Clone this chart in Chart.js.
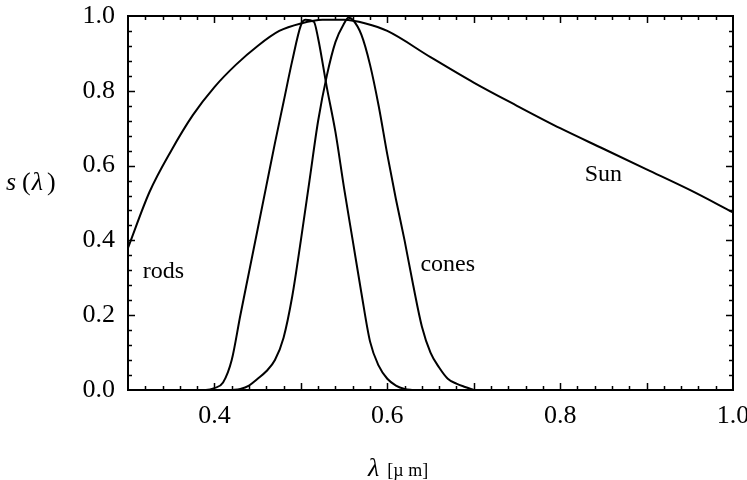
<!DOCTYPE html>
<html>
<head>
<meta charset="utf-8">
<script src="https://cdn.jsdelivr.net/npm/chart.js@4.4.1/dist/chart.umd.min.js"></script>
<style>
  html, body { margin: 0; padding: 0; background: #fff; }
</style>
</head>
<body>
<canvas id="spectra" width="747" height="480"></canvas>
<script>
// wavelength samples in µm and normalised response s(λ)
const sunLambda = [0.30, 0.325, 0.35, 0.375, 0.40, 0.425, 0.45, 0.475, 0.50, 0.525, 0.55, 0.575, 0.60, 0.65, 0.70, 0.75, 0.80, 0.85, 0.90, 0.95, 1.00];
const sunValues = [0.38, 0.53, 0.64, 0.735, 0.81, 0.87, 0.92, 0.96, 0.98, 0.99, 0.99, 0.98, 0.96, 0.89, 0.822, 0.76, 0.70, 0.645, 0.59, 0.535, 0.475];

const rodsLambda = [0.38, 0.39, 0.40, 0.41, 0.42, 0.43, 0.44, 0.45, 0.46, 0.47, 0.48, 0.49, 0.50, 0.505, 0.515, 0.52, 0.53, 0.54, 0.55, 0.56, 0.57, 0.58, 0.59, 0.60, 0.61, 0.62, 0.63];
const rodsValues = [0, 0, 0.005, 0.02, 0.08, 0.20, 0.315, 0.43, 0.545, 0.66, 0.77, 0.88, 0.975, 0.99, 0.985, 0.94, 0.81, 0.69, 0.54, 0.40, 0.26, 0.13, 0.065, 0.03, 0.012, 0.003, 0];

const conesLambda = [0.42, 0.43, 0.44, 0.45, 0.46, 0.47, 0.48, 0.49, 0.50, 0.51, 0.52, 0.53, 0.54, 0.55, 0.555, 0.56, 0.57, 0.58, 0.59, 0.60, 0.61, 0.62, 0.63, 0.64, 0.65, 0.66, 0.67, 0.68, 0.69, 0.70];
const conesValues = [0, 0.003, 0.012, 0.03, 0.05, 0.08, 0.14, 0.25, 0.40, 0.56, 0.72, 0.84, 0.93, 0.98, 0.995, 0.99, 0.95, 0.87, 0.76, 0.63, 0.51, 0.40, 0.28, 0.17, 0.10, 0.06, 0.03, 0.017, 0.008, 0];

const xTickValues = [0.4, 0.6, 0.8, 1.0];
const yTickValues = [0, 0.2, 0.4, 0.6, 0.8, 1.0];

// curve names, placed in data coordinates
const curveNames = [
  { text: 'rods', x: 0.341, y: 0.315 },
  { text: 'cones', x: 0.67, y: 0.335 },
  { text: 'Sun', x: 0.85, y: 0.575 }
];

const serif = '"Liberation Serif", "DejaVu Serif", serif';

const toPoints = (xs, ys) => xs.map((x, i) => ({ x, y: ys[i] }));

const line = (label, xs, ys) => ({
  label,
  data: toPoints(xs, ys),
  borderColor: '#000',
  borderWidth: 2,
  pointRadius: 0,
  fill: false,
  cubicInterpolationMode: 'monotone'
});

// box around the plot with inward ticks on all four sides
const framePlugin = {
  id: 'frame',
  afterDatasetsDraw(chart) {
    const { ctx, chartArea: a, scales: { x, y } } = chart;
    ctx.save();
    ctx.strokeStyle = '#000';
    ctx.lineWidth = 1.5;
    ctx.beginPath();
    for (let i = 16; i < 50; i++) {
      const px = Math.round(x.getPixelForValue(i / 50)) + 0.5;
      const len = i % 5 === 0 ? 7 : 4;
      ctx.moveTo(px, a.bottom); ctx.lineTo(px, a.bottom - len);
      ctx.moveTo(px, a.top); ctx.lineTo(px, a.top + len);
    }
    for (let i = 1; i < 25; i++) {
      const py = Math.round(y.getPixelForValue(i / 25)) + 0.5;
      const len = i % 5 === 0 ? 7 : 4;
      ctx.moveTo(a.left, py); ctx.lineTo(a.left + len, py);
      ctx.moveTo(a.right, py); ctx.lineTo(a.right - len, py);
    }
    ctx.stroke();
    ctx.lineWidth = 2;
    ctx.strokeRect(a.left, a.top, a.right - a.left, a.bottom - a.top);
    ctx.restore();
  }
};

// curve names and axis titles
const textPlugin = {
  id: 'texts',
  afterDraw(chart) {
    const { ctx, scales: { x, y } } = chart;
    ctx.save();
    ctx.fillStyle = '#000';
    ctx.textBaseline = 'middle';
    ctx.textAlign = 'center';
    ctx.font = `24px ${serif}`;
    curveNames.forEach(n => {
      ctx.fillText(n.text, x.getPixelForValue(n.x), y.getPixelForValue(n.y));
    });

    ctx.textAlign = 'left';
    ctx.textBaseline = 'alphabetic';
    // y title: s (λ)
    const ty = y.getPixelForValue(0.555) + 8;
    let tx = 6;
    ctx.font = `italic 26px ${serif}`;
    ctx.fillText('s', tx, ty); tx += ctx.measureText('s').width + 6;
    ctx.font = `26px ${serif}`;
    ctx.fillText('(', tx, ty); tx += ctx.measureText('(').width + 1;
    ctx.font = `italic 26px ${serif}`;
    ctx.fillText('λ', tx, ty); tx += ctx.measureText('λ').width + 4;
    ctx.font = `26px ${serif}`;
    ctx.fillText(')', tx, ty);

    // x title: λ [µm]
    let bx = 368;
    const by = 476;
    ctx.font = `italic 26px ${serif}`;
    ctx.fillText('λ', bx, by); bx += ctx.measureText('λ').width + 8;
    ctx.font = `18px ${serif}`;
    ctx.fillText('[µ m]', bx, by);
    ctx.restore();
  }
};

new Chart(document.getElementById('spectra'), {
  type: 'line',
  data: {
    datasets: [
      line('Sun', sunLambda, sunValues),
      line('rods', rodsLambda, rodsValues),
      line('cones', conesLambda, conesValues)
    ]
  },
  options: {
    responsive: false,
    animation: false,
    devicePixelRatio: 1,
    layout: { padding: { top: 16, right: 14, left: 0, bottom: 0 } },
    plugins: { legend: { display: false }, tooltip: { enabled: false } },
    scales: {
      x: {
        type: 'linear',
        min: 0.3,
        max: 1.0,
        grid: { display: false, drawTicks: false },
        border: { display: false },
        afterBuildTicks: s => { s.ticks = xTickValues.map(value => ({ value })); },
        afterFit: s => { s.height = 90; s.paddingLeft = 0; s.paddingRight = 0; },
        ticks: {
          color: '#000',
          padding: 11,
          maxRotation: 0,
          autoSkip: false,
          font: { family: serif, size: 26 },
          callback: v => v.toFixed(1)
        }
      },
      y: {
        min: 0,
        max: 1.0,
        grid: { display: false, drawTicks: false },
        border: { display: false },
        afterBuildTicks: s => { s.ticks = yTickValues.map(value => ({ value })); },
        afterFit: s => { s.width = 128; s.paddingTop = 0; s.paddingBottom = 0; },
        ticks: {
          color: '#000',
          padding: 13,
          font: { family: serif, size: 26 },
          callback: v => v.toFixed(1)
        }
      }
    }
  },
  plugins: [framePlugin, textPlugin]
});
</script>
</body>
</html>
